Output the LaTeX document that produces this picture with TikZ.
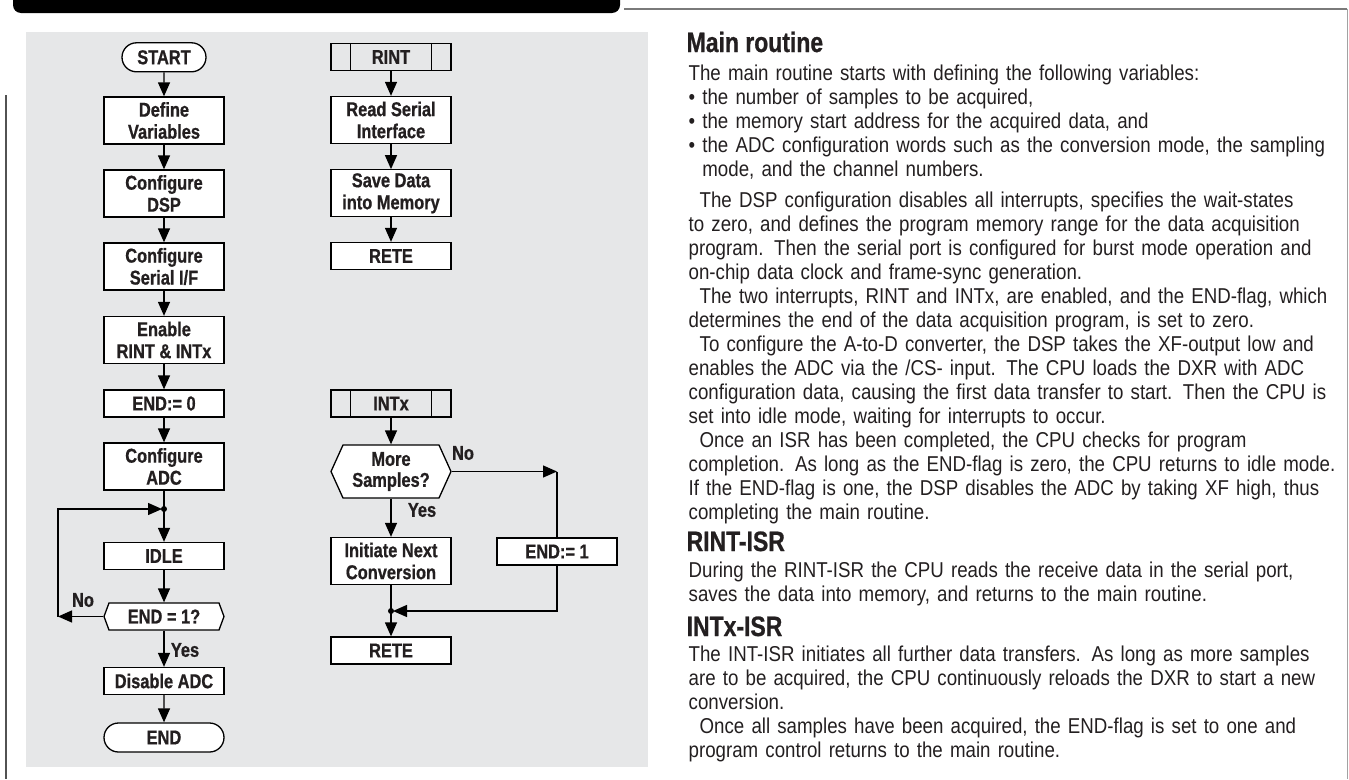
\documentclass[tikz,border=0pt]{standalone}
\usepackage{fontspec}
\setmainfont{Liberation Sans}
\newfontfamily\chartfont{Liberation Sans}[FakeStretch=0.82,BoldFeatures={FakeBold=0.8}]
\newfontfamily\bodyfont{Liberation Sans}[FakeStretch=0.87]
\usetikzlibrary{arrows.meta,shapes.misc}
\definecolor{panelgray}{HTML}{E6E7E8}
\definecolor{ink}{HTML}{231F20}
\definecolor{rulegray}{HTML}{7A7A7A}

\begin{document}
\begin{tikzpicture}[x=1pt,y=-1pt,line width=1.3pt,
  flow/.style={-{Triangle[length=14pt,width=12pt]}},
  box/.style={draw,fill=white,minimum width=120pt,minimum height=27pt,inner sep=0pt,align=center,text=ink,
    font=\chartfont\bfseries\fontsize{20}{22}\selectfont},
  tallbox/.style={box,minimum height=47pt},
  term/.style={box,rounded rectangle},
  isr/.style={box,fill=panelgray},
  dec/.style={minimum width=120pt,minimum height=27pt,inner sep=0pt,align=center,text=ink,
    font=\chartfont\bfseries\fontsize{20}{21}\selectfont},
  lbl/.style={text=ink,font=\chartfont\bfseries\fontsize{20}{21}\selectfont},
  head/.style={anchor=base west,inner sep=0pt,text=ink,font=\chartfont\bfseries\fontsize{28}{30}\selectfont},
  body/.style={anchor=north west,inner sep=0pt,text width=660pt,align=left,text=ink,
    font=\bodyfont\fontsize{21.5}{24}\selectfont}]

\useasboundingbox (0,0) rectangle (1349,779);

% page frame
\fill[black,rounded corners=8pt] (13,-10) -- (13,13) -- (620,13) -- (620,-10) -- cycle;
\draw[rulegray,line width=2pt] (624,8.5) -- (1347,8.5);
\draw[rulegray!70,line width=1pt] (1347,8.5) -- (1347,779);
\draw[rulegray!130,line width=2pt] (6,95) -- (6,779);

\fill[panelgray] (26,32) rectangle (648,767);

% main routine
\node[term,minimum width=84pt,minimum height=29pt] (start) at (164,57.3) {START};
\node[tallbox] (defv) at (164,120.5) {Define\\Variables};
\node[tallbox] (cdsp) at (164,193.5) {Configure\\DSP};
\node[tallbox] (cser) at (164,266.5) {Configure\\Serial I/F};
\node[tallbox] (enab) at (164,340) {Enable\\RINT \& INTx};
\node[box] (endz) at (164,403.5) {END:= 0};
\node[tallbox] (cadc) at (164,466.5) {Configure\\ADC};
\coordinate (jidle) at (164,509);
\node[box] (idle) at (164,556) {IDLE};
\filldraw[fill=white] (104,616.5) -- (109,603) -- (219,603) -- (224,616.5) -- (219,630) -- (109,630) -- cycle;
\node[dec] (endq) at (164,616.5) {END = 1?};
\node[box] (disadc) at (164,681) {Disable ADC};
\node[term,minimum height=29pt] (stop) at (164,737.5) {END};
\coordinate (loop) at (58,616.5);

\draw[flow] (start) -- (defv);
\draw[flow] (defv) -- (cdsp);
\draw[flow] (cdsp) -- (cser);
\draw[flow] (cser) -- (enab);
\draw[flow] (enab) -- (endz);
\draw[flow] (endz) -- (cadc);
\draw (cadc) -- (jidle);
\draw[flow] (jidle) -- (idle);
\draw[flow] (idle) -- (endq);
\draw[flow] (endq.west) -- (loop);
\draw[flow,shorten >=2pt] (loop) |- (jidle);
\draw[flow] (endq) -- (disadc);
\draw[flow] (disadc) -- (stop);
\fill (jidle) circle (3pt);
\node[lbl] (noa) at (83,600) {No};
\node[lbl] (yesa) at (185,650) {Yes};

% RINT
\node[isr] (rint) at (391,57) {RINT};
\draw ([xshift=20pt]rint.north west) -- ([xshift=20pt]rint.south west);
\draw ([xshift=-20pt]rint.north east) -- ([xshift=-20pt]rint.south east);
\node[tallbox] (rdser) at (391,120) {Read Serial\\Interface};
\node[tallbox] (svdat) at (391,193.3) {Save Data\\into Memory};
\node[box] (retea) at (391,256) {RETE};
\draw[flow] (rint) -- (rdser);
\draw[flow] (rdser) -- (svdat);
\draw[flow] (svdat) -- (retea);

% INTx
\node[isr] (intx) at (391,403.5) {INTx};
\draw ([xshift=20pt]intx.north west) -- ([xshift=20pt]intx.south west);
\draw ([xshift=-20pt]intx.north east) -- ([xshift=-20pt]intx.south east);
\filldraw[fill=white] (331,471.5) -- (343,445) -- (439,445) -- (451,471.5) -- (439,498) -- (343,498) -- cycle;
\node[dec,minimum height=53pt] (more) at (391,471.5) {More\\Samples?};
\node[tallbox] (initc) at (391,561) {Initiate Next\\Conversion};
\node[box] (endo) at (557,551.5) {END:= 1};
\coordinate (jrete) at (391,611);
\coordinate (turn) at (557,471.5);
\node[box] (reteb) at (391,650.5) {RETE};
\draw[flow] (intx) -- (more);
\draw[flow] (more) -- (initc);
\draw[flow] (more.east) -- (turn);
\draw (turn) -- (endo);
\draw[flow,shorten >=2pt] (endo) |- (jrete);
\draw (initc) -- (jrete);
\draw[flow] (jrete) -- (reteb);
\fill (jrete) circle (3pt);
\node[lbl] (nob) at (463,453) {No};
\node[lbl] (yesb) at (422,510) {Yes};

% text
\node[head] (hmain) at (686,52) {Main routine};
\node[body] (tmain) at (688,64.3) {The main routine starts with defining the following variables:\\
• the number of samples to be acquired,\\
• the memory start address for the acquired data, and\\
• the ADC configuration words such as the conversion mode, the sampling\\
\hphantom{• }mode, and the channel numbers.\\[7pt]
\hspace*{11pt}The DSP configuration disables all interrupts, specifies the wait-states\\
to zero, and defines the program memory range for the data acquisition\\
program. Then the serial port is configured for burst mode operation and\\
on-chip data clock and frame-sync generation.\\
\hspace*{11pt}The two interrupts, RINT and INTx, are enabled, and the END-flag, which\\
determines the end of the data acquisition program, is set to zero.\\
\hspace*{11pt}To configure the A-to-D converter, the DSP takes the XF-output low and\\
enables the ADC via the /CS- input. The CPU loads the DXR with ADC\\
configuration data, causing the first data transfer to start. Then the CPU is\\
set into idle mode, waiting for interrupts to occur.\\
\hspace*{11pt}Once an ISR has been completed, the CPU checks for program\\
completion. As long as the END-flag is zero, the CPU returns to idle mode.\\
If the END-flag is one, the DSP disables the ADC by taking XF high, thus\\
completing the main routine.};
\node[head] (hrint) at (686,551) {RINT-ISR};
\node[body] (trint) at (688,561.3) {During the RINT-ISR the CPU reads the receive data in the serial port,\\
saves the data into memory, and returns to the main routine.};
\node[head] (hintx) at (686,636) {INTx-ISR};
\node[body] (tintx) at (688,645.3) {The INT-ISR initiates all further data transfers. As long as more samples\\
are to be acquired, the CPU continuously reloads the DXR to start a new\\
conversion.\\
\hspace*{11pt}Once all samples have been acquired, the END-flag is set to one and\\
program control returns to the main routine.};

\end{tikzpicture}
\end{document}
